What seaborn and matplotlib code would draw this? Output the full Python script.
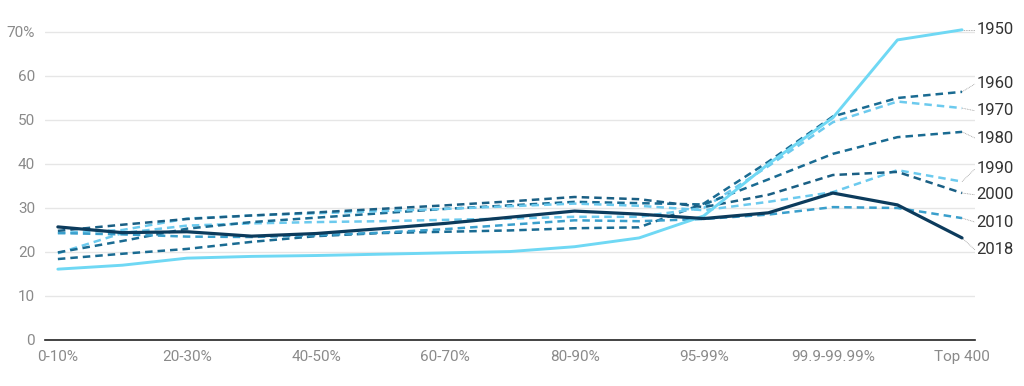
import matplotlib
matplotlib.use("Agg")
import matplotlib.pyplot as plt
import seaborn as sns
import pandas as pd

categories = ["0-10%", "10-20%", "20-30%", "30-40%", "40-50%", "50-60%", "60-70%",
              "70-80%", "80-90%", "90-95%", "95-99%", "99-99.9%", "99.9-99.99%",
              "Top 0.01%", "Top 400"]
tick_labels = ["0-10%", "20-30%", "40-50%", "60-70%", "80-90%", "95-99%", "99.9-99.99%", "Top 400"]

y1950 = [16.1, 17.0, 18.6, 19.0, 19.2, 19.5, 19.8, 20.1, 21.2, 23.2, 28.2, 40.0, 50.5, 68.2, 70.5]
y1960 = [18.4, 19.6, 20.7, 22.3, 23.6, 24.3, 24.6, 24.9, 25.4, 25.6, 31.0, 40.5, 50.8, 55.0, 56.4]
y1970 = [19.7, 24.3, 26.0, 26.5, 26.8, 27.0, 27.3, 27.6, 28.0, 28.0, 30.0, 39.5, 49.5, 54.2, 52.7]
y1980 = [19.9, 22.5, 25.3, 26.8, 27.8, 28.8, 29.8, 30.6, 31.4, 31.1, 30.8, 36.5, 42.3, 46.1, 47.3]
y1990 = [24.3, 25.0, 27.6, 28.3, 28.8, 29.3, 29.8, 30.4, 31.0, 30.5, 29.5, 31.4, 33.6, 38.6, 36.0]
y2000 = [24.8, 26.2, 27.5, 28.3, 29.0, 29.8, 30.6, 31.5, 32.5, 32.0, 30.2, 33.0, 37.5, 38.2, 33.4]
y2010 = [24.3, 24.0, 23.5, 23.4, 23.8, 24.4, 25.2, 26.2, 27.2, 27.0, 27.5, 28.5, 30.2, 30.0, 27.7]
y2018 = [25.7, 24.4, 24.6, 23.6, 24.2, 25.3, 26.5, 27.9, 29.3, 28.6, 27.6, 28.9, 33.4, 30.7, 23.2]

years = ["1950", "1960", "1970", "1980", "1990", "2000", "2010", "2018"]
series = [y1950, y1960, y1970, y1980, y1990, y2000, y2010, y2018]
label_pos = [70.5, 58.2, 52.1, 45.9, 38.9, 33.0, 26.8, 20.5]

styles = {
    "1950": dict(color="#6fd8f4", lw=2.1, ls="-"),
    "1960": dict(color="#1a6b92", lw=1.8, ls=(0, (3, 2))),
    "1970": dict(color="#6ccaee", lw=1.8, ls=(0, (3, 2))),
    "1980": dict(color="#1a6b92", lw=1.8, ls=(0, (3, 2))),
    "1990": dict(color="#6ccaee", lw=1.8, ls=(0, (3, 2))),
    "2000": dict(color="#1a5f84", lw=1.8, ls=(0, (3, 2))),
    "2010": dict(color="#3a9fcc", lw=1.8, ls=(0, (3, 2))),
    "2018": dict(color="#0c3b5c", lw=2.3, ls="-"),
}

sns.set_theme(style="white")
plt.rcParams['font.family'] = ['Roboto', 'DejaVu Sans']

fig = plt.figure(figsize=(10.24, 3.86), dpi=100)
ax = fig.add_axes([0.0439, 0.1192, 0.9082, 0.8093])

x = list(range(len(categories)))
order = ["1960", "1970", "1980", "1990", "2000", "2010", "1950", "2018"]
for yr in order:
    vals = series[years.index(yr)]
    st = styles[yr]
    df = pd.DataFrame({"x": x, "y": vals})
    sns.lineplot(data=df, x="x", y="y", ax=ax, color=st["color"], linewidth=st["lw"],
                 linestyle=st["ls"], clip_on=False, zorder=3)

ax.set_xlim(-0.2, 14.2)
ax.set_ylim(0, 71)
ax.set_yticks([0, 10, 20, 30, 40, 50, 60, 70])
ax.set_yticklabels(["0", "10", "20", "30", "40", "50", "60", "70%"])
ax.set_xticks(list(range(0, 15, 2)))
ax.set_xticklabels(tick_labels)
ax.tick_params(axis="both", length=0, labelsize=11, colors="#8a8a8a")
ax.tick_params(axis="y", pad=7)
ax.tick_params(axis="x", pad=7)
ax.set_xlabel("")
ax.set_ylabel("")
ax.grid(axis="y", color="#e6e6e6", linewidth=1.0, zorder=0)
ax.grid(axis="x", visible=False)
for s in ["top", "right", "left"]:
    ax.spines[s].set_visible(False)
ax.spines["bottom"].set_color("#222222")
ax.spines["bottom"].set_linewidth(1.2)

for yr, vals, lp in zip(years, series, label_pos):
    ax.plot([14, 14.2], [vals[-1], lp], color="#9a9a9a", lw=0.6, ls=(0, (1, 1)), clip_on=False)
    ax.text(14.22, lp, yr, ha="left", va="center", fontsize=12, color="#333333")

fig.savefig("out.png", dpi=100)
